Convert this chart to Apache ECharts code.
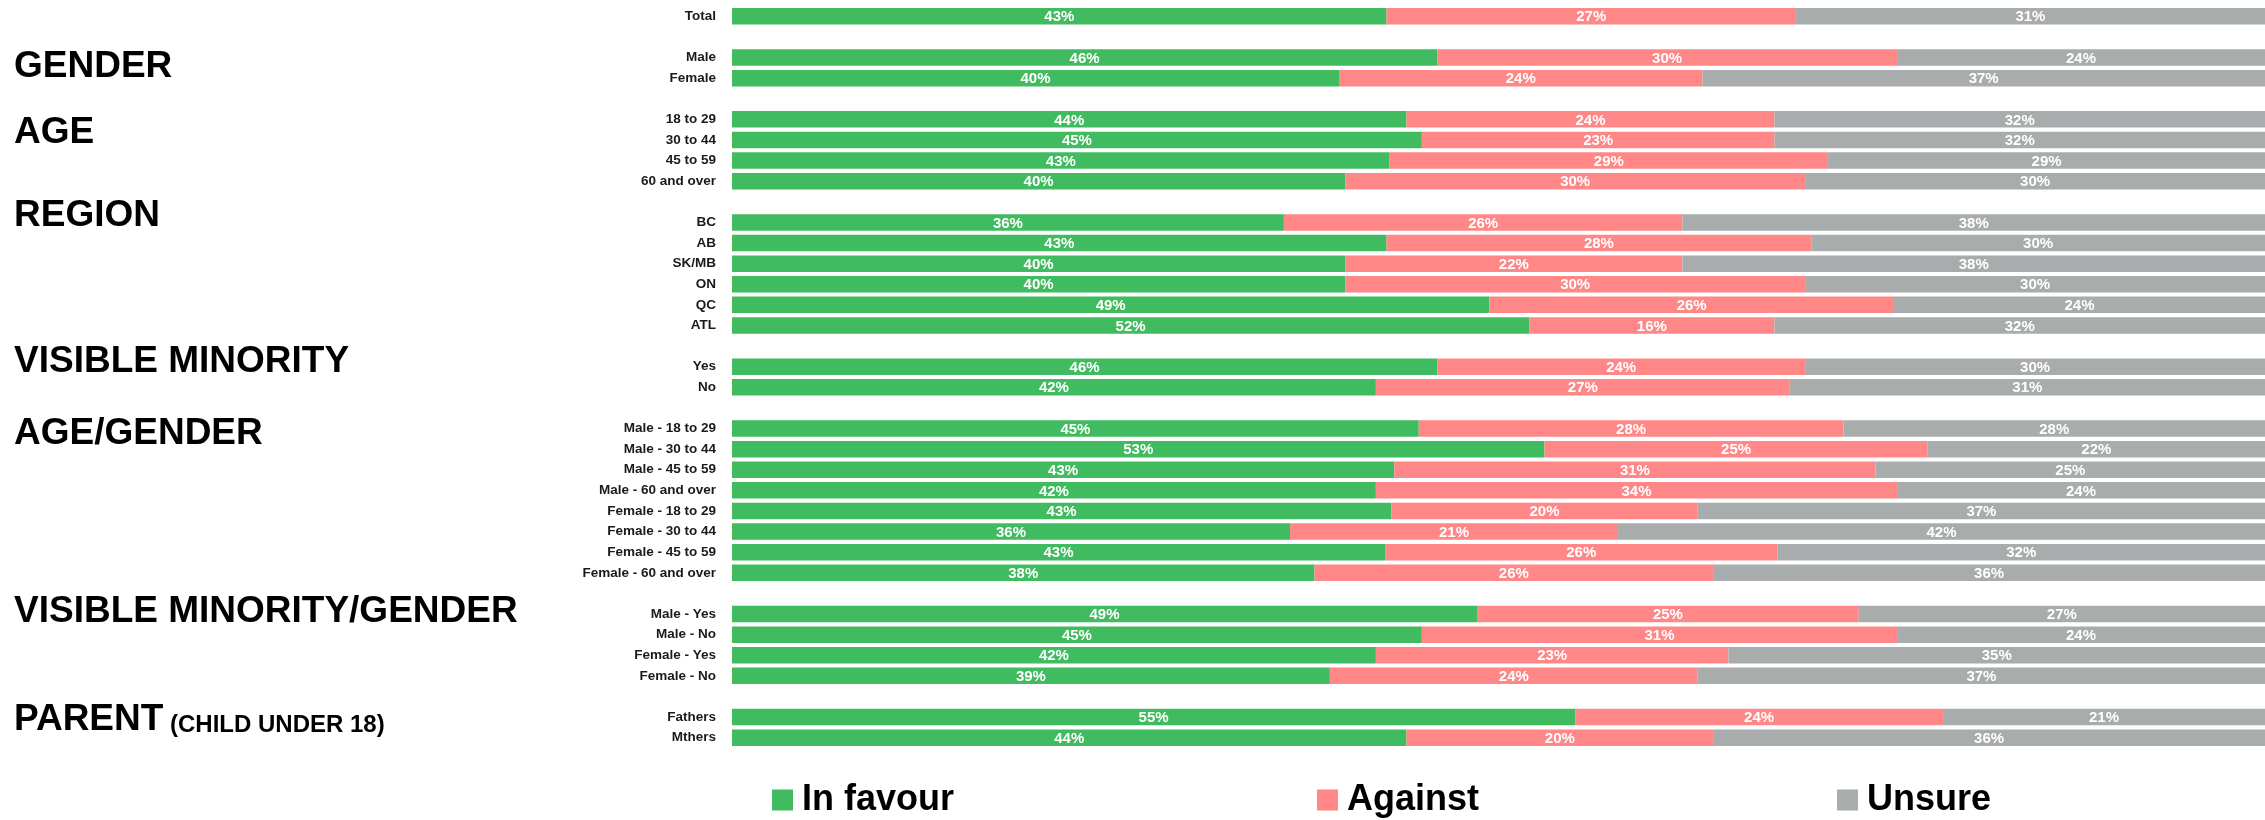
<!DOCTYPE html>
<html>
<head>
<meta charset="utf-8">
<script src="https://cdn.jsdelivr.net/npm/echarts@6/dist/echarts.min.js"></script>
<style>
  html, body { margin: 0; padding: 0; background: #ffffff; }
  #chart { width: 2265px; height: 820px; }
</style>
</head>
<body>
<div id="chart"></div>
<script>
// ---- Data (percentages; labels show them rounded) ----
const groupHeaders = ['', 'GENDER', 'AGE', 'REGION', 'VISIBLE MINORITY', 'AGE/GENDER', 'VISIBLE MINORITY/GENDER', 'PARENT'];
const groupRows = [
  ['Total'],
  ['Male', 'Female'],
  ['18 to 29', '30 to 44', '45 to 59', '60 and over'],
  ['BC', 'AB', 'SK/MB', 'ON', 'QC', 'ATL'],
  ['Yes', 'No'],
  ['Male - 18 to 29', 'Male - 30 to 44', 'Male - 45 to 59', 'Male - 60 and over',
   'Female - 18 to 29', 'Female - 30 to 44', 'Female - 45 to 59', 'Female - 60 and over'],
  ['Male - Yes', 'Male - No', 'Female - Yes', 'Female - No'],
  ['Fathers', 'Mthers']
];
const inFavour = [42.7, 46, 39.6, 44, 45, 42.9, 40, 36, 42.7, 40, 40, 49.4, 52, 46, 42, 44.8, 53, 43.2, 42, 43, 36.4, 42.6, 38, 48.6, 45, 42, 39, 55, 44];
const against  = [26.7, 30, 23.7, 24, 23, 28.6, 30, 26, 27.7, 22, 30, 26.4, 16, 24, 27, 27.7, 25, 31.4, 34, 20, 21.4, 25.6, 26, 24.9, 31, 23, 24, 24, 20];
const unsure   = [30.6, 24, 36.7, 32, 32, 28.5, 30, 38, 29.6, 38, 30, 24.2, 32, 30, 31, 27.5, 22, 25.4, 24, 37, 42.2, 31.8, 36, 26.5, 24, 35, 37, 21, 36];
const seriesNames = ['In favour', 'Against', 'Unsure'];
const parentNote = '(CHILD UNDER 18)';

// ---- Build category list with a blank slot between groups ----
const categories = [];
const rowIndex = []; // index into value arrays, or -1 for spacer
let k = 0;
groupRows.forEach((rows, gi) => {
  if (gi > 0) { categories.push('__gap' + gi); rowIndex.push(-1); }
  rows.forEach(r => { categories.push(r); rowIndex.push(k++); });
});
const mapVals = arr => rowIndex.map(i => (i < 0 ? null : arr[i]));

const colors = ['#41BB5F', '#FF8788', '#A9ACAC'];
const FONT = '"Liberation Sans", Arial, sans-serif';

const chart = echarts.init(document.getElementById('chart'), null, { renderer: 'canvas' });

const makeSeries = (name, arr, ci) => ({
  name: name,
  type: 'bar',
  stack: 'total',
  barWidth: '80%',
  data: mapVals(arr),
  itemStyle: { color: colors[ci] },
  label: {
    show: true,
    position: 'inside',
    offset: [0, 1],
    formatter: p => (p.value == null ? '' : Math.round(p.value) + '%'),
    color: '#ffffff',
    fontFamily: FONT,
    fontWeight: 'bold',
    fontSize: 15
  },
  emphasis: { disabled: true }
});

// header vertical centres (px)
const headerY = [null, 67, 133, 216, 362, 434, 612, 720];

const graphics = [];
groupHeaders.forEach((h, i) => {
  if (!h) return;
  graphics.push({
    type: 'text',
    x: 14,
    y: headerY[i],
    style: {
      text: h,
      font: 'bold 37px ' + FONT,
      fill: '#000000',
      verticalAlign: 'middle'
    }
  });
});
graphics.push({
  type: 'text',
  x: 170,
  y: headerY[7] + 5,
  style: {
    text: parentNote,
    font: 'bold 24px ' + FONT,
    fill: '#000000',
    verticalAlign: 'middle'
  }
});

const legendCommon = {
  orient: 'horizontal',
  top: 782,
  padding: 0,
  itemWidth: 21,
  itemHeight: 21,
  icon: 'rect',
  selectedMode: false,
  textStyle: { fontFamily: FONT, fontWeight: 'bold', fontSize: 36, color: '#000000', padding: [0, 0, 0, 4] }
};

chart.setOption({
  animation: false,
  backgroundColor: '#ffffff',
  color: colors,
  grid: { left: 732, right: 0, top: 6, height: 742, containLabel: false },
  xAxis: {
    type: 'value',
    min: 0,
    max: 100,
    show: false
  },
  yAxis: {
    type: 'category',
    inverse: true,
    data: categories,
    axisLine: { show: false },
    axisTick: { show: false },
    splitLine: { show: false },
    axisLabel: {
      margin: 16,
      fontFamily: FONT,
      fontWeight: 'bold',
      fontSize: 13.5,
      color: '#1a1a1a',
      formatter: v => (v.indexOf('__gap') === 0 ? '' : v)
    }
  },
  legend: [
    Object.assign({}, legendCommon, { left: 772, data: [seriesNames[0]] }),
    Object.assign({}, legendCommon, { left: 1317, data: [seriesNames[1]] }),
    Object.assign({}, legendCommon, { left: 1837, data: [seriesNames[2]] })
  ],
  graphic: graphics,
  series: [
    makeSeries(seriesNames[0], inFavour, 0),
    makeSeries(seriesNames[1], against, 1),
    makeSeries(seriesNames[2], unsure, 2)
  ]
});
</script>
</body>
</html>
